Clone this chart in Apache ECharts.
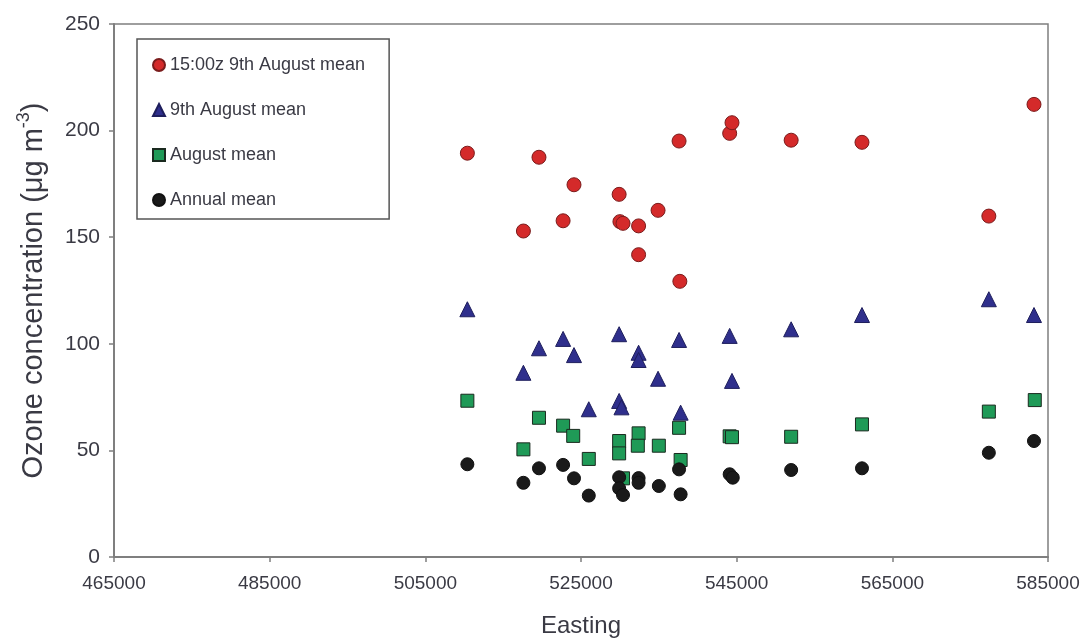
<!DOCTYPE html>
<html>
<head>
<meta charset="utf-8">
<script src="https://cdn.jsdelivr.net/npm/echarts@6/dist/echarts.min.js"></script>
<style>html,body{margin:0;padding:0;background:#fff}#chart{width:1089px;height:639px}</style>
</head>
<body>
<div id="chart"></div>
<script>
const seriesNames = ['15:00z 9th August mean', '9th August mean', 'August mean', 'Annual mean'];
const xTicks = [465000, 485000, 505000, 525000, 545000, 565000, 585000];
const yTicks = [0, 50, 100, 150, 200, 250];

const peakEasting = [510400, 517600, 519600, 522700, 524100, 529900, 530000, 530400, 532400, 532400, 534900, 537600, 537700, 544100, 544400, 552000, 561100, 577400, 583200];
const peakValues  = [189.4, 152.9, 187.5, 157.7, 174.6, 170.1, 157.3, 156.5, 155.3, 141.8, 162.6, 195.1, 129.3, 198.7, 203.7, 195.5, 194.5, 159.9, 212.3];

const dayEasting = [510400, 517600, 519600, 522700, 524100, 526000, 529900, 529900, 530200, 532400, 532400, 534900, 537600, 537800, 544100, 544400, 552000, 561100, 577400, 583200];
const dayValues  = [116.2, 86.4, 97.9, 102.3, 94.7, 69.3, 104.5, 73.2, 70.2, 95.8, 92.4, 83.6, 101.8, 67.7, 103.7, 82.6, 106.8, 113.5, 120.9, 113.5];

const monthEasting = [510400, 517600, 519600, 522700, 524000, 526000, 529900, 529900, 530400, 532400, 532300, 535000, 537600, 537800, 544100, 544400, 552000, 561100, 577400, 583300];
const monthValues  = [73.3, 50.5, 65.3, 61.6, 56.8, 46.0, 54.4, 48.6, 36.9, 58.0, 52.2, 52.2, 60.6, 45.5, 56.6, 56.2, 56.4, 62.2, 68.2, 73.6];

const annualEasting = [510400, 517600, 519600, 522700, 524100, 526000, 529900, 529900, 530400, 532400, 532400, 535000, 537600, 537800, 544100, 544500, 552000, 561100, 577400, 583200];
const annualValues  = [43.5, 34.8, 41.6, 43.2, 36.9, 28.8, 37.4, 32.2, 29.1, 37.0, 34.8, 33.3, 41.1, 29.4, 38.8, 37.2, 40.8, 41.6, 48.9, 54.4];

function pairs(xs, ys) { return xs.map((x, i) => [x, ys[i]]); }

const chart = echarts.init(document.getElementById('chart'), null, {renderer: 'canvas'});
const axisColor = '#7f7f7f';
const textColor = '#3a3a44';
const ff = 'Liberation Sans, Arial, sans-serif';
chart.setOption({
  animation: false,
  backgroundColor: '#ffffff',
  grid: {left: 114, right: 41, top: 24, bottom: 82, show: true, borderColor: axisColor, borderWidth: 1.5,
         containLabel: false, outerBoundsMode: 'none'},
  legend: {
    orient: 'vertical', left: 137, top: 39,
    padding: [17, 24, 10, 15],
    itemGap: 27, itemWidth: 12, itemHeight: 12,
    borderColor: '#555555', borderWidth: 1.5,
    textStyle: {fontFamily: ff, fontSize: 18, color: textColor, lineHeight: 18},
    data: seriesNames
  },
  xAxis: {
    type: 'value', min: xTicks[0], max: xTicks[xTicks.length - 1], interval: 20000,
    name: 'Easting', nameLocation: 'middle', nameGap: 57,
    nameTextStyle: {fontFamily: ff, fontSize: 24, color: textColor},
    axisLine: {show: true, onZero: false, lineStyle: {color: axisColor, width: 2}},
    axisTick: {show: true, length: 5, lineStyle: {color: axisColor, width: 1.5}},
    axisLabel: {margin: 17, fontFamily: ff, fontSize: 19, color: textColor, formatter: v => String(v)},
    splitLine: {show: false}
  },
  yAxis: {
    type: 'value', min: yTicks[0], max: yTicks[yTicks.length - 1], interval: 50,
    name: '{a|Ozone concentration (μg m}{s|-3}{a|)}', nameLocation: 'middle', nameGap: 66,
    nameTextStyle: {
      fontFamily: ff, fontSize: 29, color: textColor,
      rich: {
        a: {fontFamily: ff, fontSize: 29, color: textColor, lineHeight: 33, verticalAlign: 'bottom'},
        s: {fontFamily: ff, fontSize: 18, color: textColor, lineHeight: 33, verticalAlign: 'top'}
      }
    },
    axisLine: {show: true, lineStyle: {color: axisColor, width: 2}},
    axisTick: {show: true, length: 5, lineStyle: {color: axisColor, width: 1.5}},
    axisLabel: {margin: 14, fontFamily: ff, fontSize: 21, color: textColor},
    splitLine: {show: false}
  },
  series: [
    {name: seriesNames[0], type: 'scatter', symbol: 'circle', symbolSize: 14,
     itemStyle: {color: '#d42a2a', borderColor: '#7a1c1c', borderWidth: 1, opacity: 1}, data: pairs(peakEasting, peakValues)},
    {name: seriesNames[1], type: 'scatter', symbol: 'triangle', symbolSize: 15,
     itemStyle: {color: '#2f2f8c', borderColor: '#1e1e5c', borderWidth: 1, opacity: 1}, data: pairs(dayEasting, dayValues)},
    {name: seriesNames[2], type: 'scatter', symbol: 'rect', symbolSize: 13,
     itemStyle: {color: '#1f9a57', borderColor: '#1a2a1f', borderWidth: 1, opacity: 1}, data: pairs(monthEasting, monthValues)},
    {name: seriesNames[3], type: 'scatter', symbol: 'circle', symbolSize: 13,
     itemStyle: {color: '#1a1a1a', borderColor: '#111111', borderWidth: 1, opacity: 1}, data: pairs(annualEasting, annualValues)}
  ]
});
</script>
</body>
</html>
